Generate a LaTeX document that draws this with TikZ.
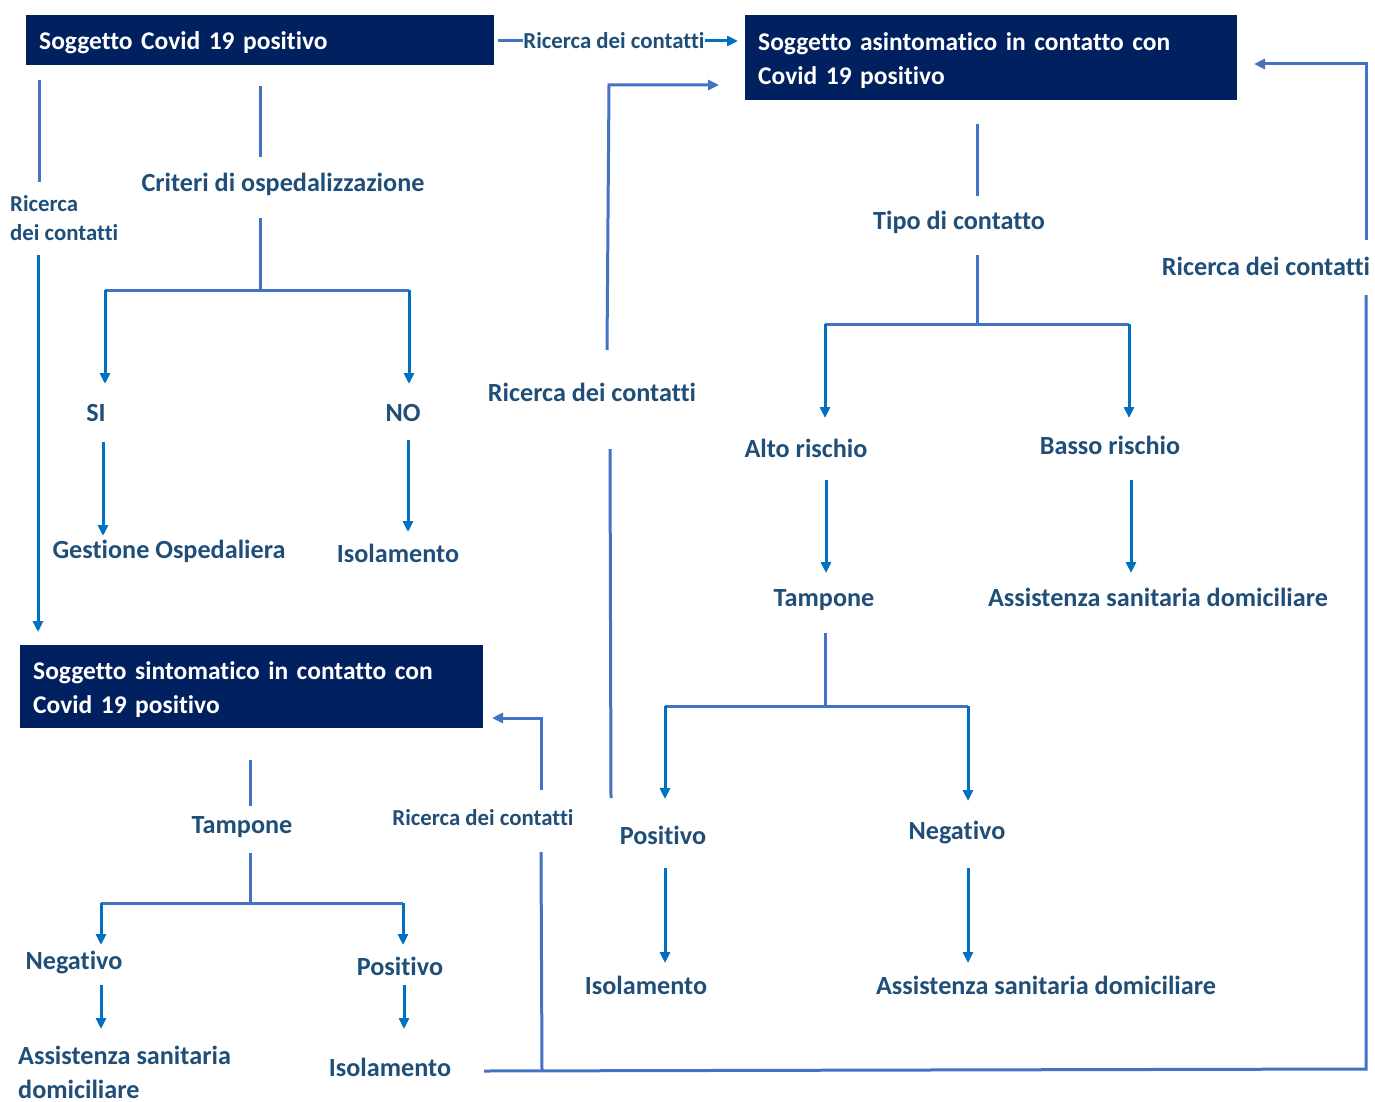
\documentclass[tikz,border=0pt]{standalone}
\usepackage{fontspec}
\setmainfont{Carlito}[Ligatures=NoCommon]
\usetikzlibrary{arrows.meta}
\definecolor{navy}{HTML}{002060}
\definecolor{txtblue}{HTML}{1F4E79}
\definecolor{lnblue}{HTML}{4472C4}
\definecolor{arrblue}{HTML}{0070C0}
\tikzset{
  box/.style={fill=navy, text=white, font=\fontsize{25.5}{34}\selectfont\bfseries, anchor=north west, inner xsep=13pt, inner ysep=0pt, align=left, text height=23pt},
  lbl/.style={text=txtblue, font=\fontsize{26.2}{34}\selectfont\bfseries, inner sep=0pt},
  slbl/.style={text=txtblue, font=\fontsize{22.8}{29}\selectfont\bfseries, inner sep=0pt},
  ln/.style={draw=lnblue, line width=3pt},
  arr/.style={draw=arrblue, line width=3pt, -{Triangle[length=11pt,width=10pt]}},
  larr/.style={draw=lnblue, line width=3pt, -{Triangle[length=11pt,width=10pt]}},
}
\begin{document}
\begin{tikzpicture}[x=1pt,y=-1pt]
\useasboundingbox (0,0) rectangle (1375,1102);
% boxes
\node[box, minimum width=468pt, minimum height=50pt, text width=442pt] (b1) at (26,15) {Soggetto Covid 19 positivo};
\node[box, minimum width=492pt, minimum height=85pt, text width=466pt] (b2) at (745,15) {Soggetto asintomatico in contatto con\\Covid 19 positivo};
\node[box, minimum width=463pt, minimum height=83pt, text width=437pt] (b3) at (20,645) {Soggetto sintomatico in contatto con\\Covid 19 positivo};

% top connector
\node[slbl] (rtop) at (614,41) {Ricerca dei contatti};
\coordinate (t0) at (498,41);
\draw[ln] (t0) -- (rtop.west);
\coordinate (t1) at (738,41);
\draw[arr] (rtop.east) -- (t1);

% left column
\node[slbl, anchor=west, align=left] (rleft) at (10,218) {Ricerca\\dei contatti};
\coordinate (l0) at (39,80);
\coordinate (l1) at (39,182);
\draw[ln] (l0) -- (l1);
\coordinate (l2) at (38,255);
\coordinate (l3) at (38,632);
\draw[arr] (l2) -- (l3);

% criteri
\node[lbl] (crit) at (283,184) {Criteri di ospedalizzazione};
\coordinate (c0) at (260,86);
\coordinate (c1) at (260,157);
\draw[ln] (c0) -- (c1);
\coordinate (c2) at (260,218);
\coordinate (c3) at (260,290);
\draw[ln] (c2) -- (c3);
\node[lbl] (si) at (96,413) {SI};
\node[lbl] (no) at (403,413) {NO};
\coordinate (cl) at (105,290);
\coordinate (cr) at (409,290);
\draw[ln] (cl) -- (cr);
\coordinate (sia) at (105,384);
\coordinate (noa) at (409,384);
\draw[arr] (cl) -- (sia);
\draw[arr] (cr) -- (noa);
\node[lbl] (gest) at (169,551) {Gestione Ospedaliera};
\node[lbl] (iso1) at (398,553) {Isolamento};
\coordinate (s0) at (103,442);
\coordinate (s1) at (103,536);
\draw[arr] (s0) -- (s1);
\coordinate (n0) at (408,440);
\coordinate (n1) at (408,532);
\draw[arr] (n0) -- (n1);

% right part
\node[lbl] (tipo) at (959,222) {Tipo di contatto};
\coordinate (p0) at (977,124);
\coordinate (p1) at (977,196);
\draw[ln] (p0) -- (p1);
\coordinate (p2) at (977,255);
\coordinate (p3) at (977,324);
\draw[ln] (p2) -- (p3);
\coordinate (pl) at (825,324);
\coordinate (pr) at (1129,324);
\draw[ln] (pl) -- (pr);
\coordinate (pla) at (825,418);
\coordinate (pra) at (1129,418);
\draw[arr] (pl) -- (pla);
\draw[arr] (pr) -- (pra);
\node[lbl] (alto) at (806,448) {Alto rischio};
\node[lbl] (basso) at (1110,445) {Basso rischio};
\coordinate (a0) at (826,480);
\coordinate (a1) at (826,573);
\draw[arr] (a0) -- (a1);
\coordinate (bb0) at (1131,480);
\coordinate (bb1) at (1131,573);
\draw[arr] (bb0) -- (bb1);
\node[lbl] (tamp1) at (824,600) {Tampone};
\node[lbl] (asd1) at (1158,597) {Assistenza sanitaria domiciliare};
\coordinate (q0) at (825,633);
\coordinate (q1) at (825,706);
\draw[ln] (q0) -- (q1);
\coordinate (ql) at (665,706);
\coordinate (qr) at (968,706);
\draw[ln] (ql) -- (qr);
\coordinate (qla) at (665,799);
\coordinate (qra) at (968,801);
\draw[arr] (ql) -- (qla);
\draw[arr] (qr) -- (qra);
\node[lbl] (pos1) at (663,835) {Positivo};
\node[lbl] (neg1) at (957,833) {Negativo};
\coordinate (r0) at (665,868);
\coordinate (r1) at (665,963);
\draw[arr] (r0) -- (r1);
\coordinate (u0) at (968,868);
\coordinate (u1) at (968,963);
\draw[arr] (u0) -- (u1);
\node[lbl] (iso2) at (646,985) {Isolamento};
\node[lbl] (asd2) at (1046,985) {Assistenza sanitaria domiciliare};

% middle ricerca
\node[lbl] (rmid) at (592,392) {Ricerca dei contatti};
\coordinate (m0) at (611,798);
\coordinate (m1) at (610,449);
\draw[ln] (m0) -- (m1);
\coordinate (m2) at (607,350);
\coordinate (m3) at (609,85);
\coordinate (m4) at (719,85);
\draw[larr] (m2) -- (m3) -- (m4);

% right loop
\coordinate (z0) at (484,1071);
\coordinate (z1) at (1366,1069);
\coordinate (z2) at (1366,295);
\draw[ln] (z0) -- (z1) -- (z2);
\node[lbl] (rright) at (1266,266) {Ricerca dei contatti};
\coordinate (z3) at (1366,240);
\coordinate (z4) at (1366,64);
\coordinate (z5) at (1254,64);
\draw[larr] (z3) -- (z4) -- (z5);

% bottom middle ricerca
\node[slbl] (rbot) at (483,818) {Ricerca dei contatti};
\coordinate (w0) at (542,1070);
\coordinate (w1) at (541,852);
\draw[ln] (w0) -- (w1);
\coordinate (w2) at (541,790);
\coordinate (w3) at (541,718);
\coordinate (w4) at (492,718);
\draw[larr] (w2) -- (w3) -- (w4);

% B3 subtree
\node[lbl] (tamp2) at (242,827) {Tampone};
\coordinate (v0) at (250,760);
\coordinate (v1) at (250,806);
\draw[ln] (v0) -- (v1);
\coordinate (v2) at (250,853);
\coordinate (v3) at (250,903);
\draw[ln] (v2) -- (v3);
\coordinate (vl) at (101,903);
\coordinate (vr) at (403,903);
\draw[ln] (vl) -- (vr);
\coordinate (vla) at (101,945);
\coordinate (vra) at (403,945);
\draw[arr] (vl) -- (vla);
\draw[arr] (vr) -- (vra);
\node[lbl] (neg2) at (74,963) {Negativo};
\node[lbl] (pos2) at (400,966) {Positivo};
\coordinate (x0) at (101,985);
\coordinate (x1) at (101,1029);
\draw[arr] (x0) -- (x1);
\coordinate (y0) at (404,985);
\coordinate (y1) at (404,1029);
\draw[arr] (y0) -- (y1);
\node[lbl, anchor=west, align=left] (asd3) at (18,1072) {Assistenza sanitaria\\domiciliare};
\node[lbl] (iso3) at (390,1067) {Isolamento};
\end{tikzpicture}
\end{document}
